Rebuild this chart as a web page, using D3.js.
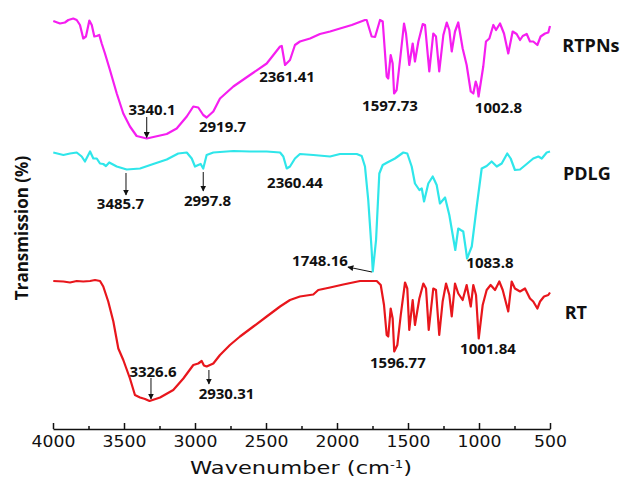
<!DOCTYPE html>
<html>
<head>
<meta charset="utf-8">
<script src="https://cdn.jsdelivr.net/npm/d3@7"></script>
<style>
  body { margin: 0; background: #fff; }
  .note { font-family: "Open Sans", sans-serif; font-weight: 700; font-size: 15px; fill: #111; }
  .name { font-family: "Open Sans", sans-serif; font-weight: 700; font-size: 18px; fill: #111; }
</style>
</head>
<body>
<div class="chart"></div>
<script>
// spectra: [wavenumber (cm-1), transmission (offset, a.u.)]
let rtpns = [
  [3998,81.2],[3951,80.7],[3916,80.9],[3892,81.4],[3857,81.7],[3833,81.4],[3810,80.4],[3787,77.7],
  [3768,78.1],[3744,81.3],[3727,80.4],[3709,78.1],[3692,78.2],[3674,78.4],[3657,76.7],[3634,74.7],
  [3599,71.4],[3551,66.7],[3505,62.7],[3458,60.1],[3411,58.2],[3340,57.7],[3199,58.6],[3129,59.7],
  [3058,62.1],[3012,64.1],[2977,63.9],[2942,62.4],[2918,61.9],[2871,63.1],[2824,65.7],[2730,68.1],
  [2613,70.4],[2495,72.7],[2401,76.1],[2389,76.2],[2366,72.4],[2331,73.4],[2296,76.4],[2261,77.1],
  [2190,77.7],[2120,78.6],[2049,79.1],[1979,79.7],[1896,80.4],[1803,81.4],[1791,81.4],[1756,78.1],
  [1732,78.0],[1697,81.4],[1678,81.1],[1650,70.1],[1639,69.7],[1622,74.4],[1608,72.7],[1598,66.7],
  [1580,67.4],[1556,73.4],[1528,80.7],[1514,78.7],[1491,72.4],[1467,76.7],[1451,73.1],[1427,77.1],
  [1396,80.6],[1380,80.4],[1350,71.1],[1322,78.7],[1303,78.1],[1280,71.1],[1251,78.4],[1227,80.9],
  [1209,79.4],[1192,75.1],[1169,79.1],[1146,80.9],[1115,75.7],[1087,72.4],[1058,67.1],[1040,66.7],
  [1023,69.1],[1012,68.1],[1003,66.1],[970,72.1],[951,77.1],[927,77.7],[899,80.4],[880,79.4],
  [852,80.7],[824,78.7],[794,74.7],[763,79.1],[735,78.6],[711,77.4],[692,78.2],[664,78.6],
  [641,77.1],[618,77.1],[589,76.4],[566,78.1],[535,78.7],[512,78.9],[500,80.2]
];
let pdlg = [
  [3998,54.9],[3927,54.4],[3880,54.7],[3833,54.9],[3798,54.1],[3775,53.1],[3739,55.1],[3716,53.7],
  [3692,53.7],[3669,52.7],[3646,52.6],[3627,52.2],[3604,52.9],[3551,52.1],[3481,51.5],[3387,51.7],
  [3294,52.6],[3199,53.5],[3118,54.7],[3058,54.9],[3023,53.7],[3000,52.1],[2977,52.4],[2960,52.6],
  [2942,51.7],[2918,54.4],[2871,54.9],[2730,55.2],[2613,55.1],[2495,55.1],[2401,54.9],[2378,54.1],
  [2354,51.7],[2331,52.1],[2296,53.7],[2261,54.6],[2167,54.4],[2049,54.1],[1979,54.6],[1861,54.6],
  [1826,54.2],[1803,52.1],[1780,45.4],[1756,35.4],[1748,31.1],[1725,37.4],[1702,50.7],[1678,52.4],
  [1646,52.9],[1592,53.7],[1533,54.9],[1505,54.7],[1474,52.1],[1451,48.7],[1420,47.4],[1403,47.7],
  [1387,45.1],[1357,48.7],[1326,50.1],[1298,48.4],[1275,44.7],[1239,45.9],[1209,42.4],[1185,38.4],
  [1167,35.4],[1146,39.7],[1129,39.4],[1111,39.1],[1092,35.4],[1084,33.7],[1051,36.1],[1016,44.1],
  [981,51.7],[946,52.2],[911,53.1],[875,52.1],[840,52.7],[801,54.7],[777,53.7],[747,51.4],
  [711,51.5],[664,52.6],[618,53.7],[582,54.1],[558,53.7],[523,54.9],[500,55.1]
];
let rt = [
  [3998,29.2],[3927,29.1],[3880,28.9],[3833,29.2],[3787,29.1],[3739,29.2],[3704,29.4],[3669,29.2],
  [3646,28.1],[3611,25.1],[3575,21.1],[3540,15.7],[3505,13.4],[3458,9.7],[3423,6.4],[3387,5.9],
  [3352,5.6],[3320,5.2],[3246,5.9],[3153,7.4],[3082,9.7],[3012,12.4],[2977,12.7],[2953,13.2],
  [2937,12.3],[2918,12.1],[2871,12.7],[2824,14.4],[2754,16.4],[2683,18.1],[2589,20.1],[2495,22.1],
  [2401,24.1],[2331,25.4],[2261,26.1],[2167,26.5],[2132,27.4],[2049,27.9],[1956,28.5],[1838,29.2],
  [1720,29.2],[1692,28.4],[1669,24.4],[1650,18.4],[1639,18.1],[1622,23.7],[1608,21.7],[1597,15.1],
  [1575,16.4],[1551,22.4],[1521,28.9],[1505,27.7],[1491,19.4],[1467,25.4],[1451,20.4],[1420,25.7],
  [1392,28.7],[1373,27.7],[1354,19.4],[1322,27.7],[1303,27.4],[1280,18.4],[1256,25.1],[1232,28.7],
  [1209,26.4],[1192,22.1],[1169,28.7],[1146,26.7],[1115,25.4],[1087,28.4],[1058,24.1],[1040,28.4],
  [1021,26.4],[1002,17.7],[974,24.4],[946,27.4],[918,28.4],[887,27.4],[857,29.1],[833,27.4],
  [794,23.1],[770,29.1],[747,27.7],[711,27.1],[676,27.7],[641,25.7],[618,25.1],[589,23.7],
  [570,25.1],[542,26.1],[512,26.4],[500,26.9]
];

let seriesNames = ["RTPNs", "PDLG", "RT"];
let seriesColors = ["#f51ef0", "#2fe6ea", "#e8161c"];
let seriesData = [rtpns, pdlg, rt];
// where each series name sits [wavenumber, value]
let nameAnchors = [[212, 76.2], [240, 50.6], [318, 22.8]];

let xTicks = [4000, 3500, 3000, 2500, 2000, 1500, 1000, 500];
let xMinorTicks = [3750, 3250, 2750, 2250, 1750, 1250, 750];

// peak labels: text, [wavenumber, value] of label centre
let peakLabels = [
  ["3340.1", 3303, 63.4], ["2919.7", 2806, 60.0], ["2361.41", 2352, 70.0],
  ["1597.73", 1627, 64.2], ["1002.8", 863, 63.8],
  ["3485.7", 3525, 44.6], ["2997.8", 2912, 45.2], ["2360.44", 2296, 48.8],
  ["1748.16", 2120, 33.2], ["1083.8", 923, 32.8],
  ["3326.6", 3296, 11.0], ["2930.31", 2778, 6.6], ["1596.77", 1571, 12.8],
  ["1001.84", 937, 15.6]
];
// arrows: [from wn, from value, to wn, to value]
let peakArrows = [
  [3340, 62.0, 3340, 57.9],
  [3486, 50.8, 3486, 46.4],
  [2942, 51.0, 2942, 47.2],
  [1754, 31.0, 1923, 32.0],
  [3310, 9.8, 3310, 5.6],
  [2902, 11.4, 2902, 8.6]
];

let svgWidth = 622;
let svgHeight = 477;

let svg = d3.select(".chart")
  .append("svg")
  .attr("width", svgWidth)
  .attr("height", svgHeight);

svg.append("defs").append("marker")
  .attr("id", "arrow")
  .attr("viewBox", "0 0 10 10")
  .attr("refX", 9)
  .attr("refY", 5)
  .attr("markerWidth", 6)
  .attr("markerHeight", 6)
  .attr("markerUnits", "userSpaceOnUse")
  .attr("orient", "auto")
  .append("path")
  .attr("d", "M0,0 L10,5 L0,10 z")
  .attr("fill", "#111");

let x = d3.scaleLinear().domain([4000, 500]).range([53, 550]);
let y = d3.scaleLinear().domain([-0.4, 82]).range([429, 17]);

let line = d3.line()
  .x(d => x(d[0]))
  .y(d => y(d[1]));

seriesData.forEach(function(data, i) {
  svg.append("path")
    .datum(data)
    .attr("fill", "none")
    .attr("stroke", seriesColors[i])
    .attr("stroke-width", 2.2)
    .attr("stroke-linejoin", "round")
    .attr("d", line);
});

// bottom axis, ticks pointing inwards
let xAxis = svg.append("g")
  .attr("transform", `translate(0, ${y.range()[0]})`)
  .call(d3.axisBottom(x).tickValues(xTicks).tickFormat(d3.format("d"))
    .tickSizeInner(-6).tickSizeOuter(0).tickPadding(7));
xAxis.select(".domain").attr("stroke", "#111").attr("stroke-width", 1.5);
xAxis.selectAll(".tick line").attr("stroke", "#111").attr("stroke-width", 1.5);
xAxis.selectAll(".tick text")
  .attr("font-family", "DejaVu Sans, sans-serif")
  .attr("font-size", 15)
  .attr("fill", "#111")
  .attr("transform", "scale(1.15,1)")
  .attr("x", 0);

let minor = svg.append("g")
  .attr("transform", `translate(0, ${y.range()[0]})`)
  .call(d3.axisBottom(x).tickValues(xMinorTicks).tickSizeInner(-3).tickSizeOuter(0).tickFormat(""));
minor.select(".domain").remove();
minor.selectAll(".tick line").attr("stroke", "#111").attr("stroke-width", 1.5);

// axis titles
let xTitle = svg.append("text")
  .attr("x", 301)
  .attr("y", 474)
  .attr("text-anchor", "middle")
  .attr("font-family", "DejaVu Sans, sans-serif")
  .attr("font-size", 17)
  .attr("fill", "#111")
  .attr("textLength", 222)
  .attr("lengthAdjust", "spacingAndGlyphs");
xTitle.append("tspan").text("Wavenumber (cm");
xTitle.append("tspan").attr("dy", -6).attr("font-size", 10).text("-1");
xTitle.append("tspan").attr("dy", 6).text(")");

svg.append("text")
  .attr("transform", "translate(28, 228) rotate(-90)")
  .attr("text-anchor", "middle")
  .attr("font-family", "Open Sans, sans-serif")
  .attr("font-weight", 700)
  .attr("font-size", 17)
  .attr("fill", "#111")
  .text("Transmission (%)");

// peak labels
svg.selectAll(".note")
  .data(peakLabels)
  .enter()
  .append("text")
  .attr("class", "note")
  .attr("x", d => x(d[1]))
  .attr("y", d => y(d[2]))
  .attr("dy", "0.35em")
  .attr("text-anchor", "middle")
  .text(d => d[0]);

svg.selectAll(".arrow")
  .data(peakArrows)
  .enter()
  .append("line")
  .attr("class", "arrow")
  .attr("x1", d => x(d[0]))
  .attr("y1", d => y(d[1]))
  .attr("x2", d => x(d[2]))
  .attr("y2", d => y(d[3]))
  .attr("stroke", "#111")
  .attr("stroke-width", 1)
  .attr("marker-end", "url(#arrow)");

// series names
svg.selectAll(".name")
  .data(seriesNames)
  .enter()
  .append("text")
  .attr("class", "name")
  .attr("x", (d, i) => x(nameAnchors[i][0]))
  .attr("y", (d, i) => y(nameAnchors[i][1]))
  .attr("dy", "0.35em")
  .attr("text-anchor", "middle")
  .text(d => d);
</script>
</body>
</html>
